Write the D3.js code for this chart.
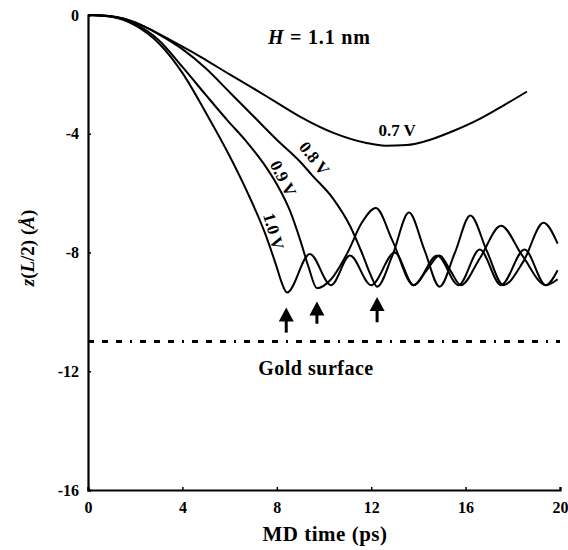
<!DOCTYPE html>
<html>
<head>
<meta charset="utf-8">
<script src="https://cdnjs.cloudflare.com/ajax/libs/d3/7.8.5/d3.min.js"></script>
<style>
  body { margin: 0; background: #fff; }
  text { font-family: "Liberation Serif", "Times New Roman", serif; font-weight: bold; fill: #000; }
</style>
</head>
<body>
<div id="chart"></div>
<script>
// values (time in ps, z in Angstrom)
var time07 = [0, 1, 2, 2.6, 3.5, 4.75, 6, 6.9, 8, 9, 10.4, 11.8, 12.6, 13.5, 14.5, 15.5, 16.6, 17.6, 18.6];
var z07    = [0, -0.05, -0.25, -0.47, -0.85, -1.4, -2.0, -2.42, -2.95, -3.43, -3.97, -4.31, -4.4, -4.38, -4.2, -3.9, -3.5, -3.05, -2.58];

var time08 = [0, 1, 2, 3, 4, 5, 6, 7, 8, 9, 9.5, 10.4, 11.1, 11.6, 12.0, 12.25, 12.9, 13.6, 14.25, 14.9, 15.55, 16.2, 16.9, 17.6, 18.45, 19.3, 19.9];
var z08    = [0, -0.04, -0.25, -0.65, -1.15, -1.8, -2.6, -3.4, -4.2, -4.95, -5.4, -6.2, -7.1, -8.0, -8.8, -9.15, -8.1, -6.65, -7.9, -9.15, -8.0, -6.75, -7.95, -9.1, -8.3, -7.0, -7.7];

var time09 = [0, 1, 2, 3, 4, 5, 5.9, 6.7, 7.42, 8, 8.56, 9, 9.35, 9.7, 10.3, 11.0, 11.6, 12.2, 12.9, 13.8, 14.35, 14.9, 15.35, 15.8, 16.6, 17.5, 18.4, 19.4, 19.9];
var z09    = [0, -0.05, -0.3, -0.85, -1.75, -2.7, -3.54, -4.25, -4.98, -5.7, -6.6, -7.6, -8.5, -9.2, -8.9, -8.0, -7.0, -6.5, -7.6, -9.1, -8.6, -8.1, -8.6, -9.1, -8.2, -7.1, -8.1, -9.1, -8.9];

var time10 = [0, 1, 2, 3, 4, 5, 6, 6.74, 7.5, 8.0, 8.2, 8.43, 9.4, 10.3, 11.1, 12.0, 13.0, 13.8, 14.8, 15.7, 16.6, 17.5, 18.5, 19.4, 19.9];
var z10    = [0, -0.06, -0.35, -0.95, -1.95, -3.3, -4.75, -5.95, -7.35, -8.5, -9.0, -9.35, -8.05, -9.1, -8.1, -9.1, -8.0, -9.1, -8.1, -9.1, -7.9, -9.1, -7.9, -9.1, -8.6];

var seriesNames = ["0.7 V", "0.8 V", "0.9 V", "1.0 V"];

// first-contact arrows (time, tip z, tail z)
var arrowTime = [8.4, 9.7, 12.25];
var arrowTip  = [-9.85, -9.65, -9.5];
var arrowTail = [-10.7, -10.4, -10.35];

var goldZ = -11;

var xTicks = [0, 4, 8, 12, 16, 20];
var yTicks = [0, -4, -8, -12, -16];

// chart size
var svgWidth = 568;
var svgHeight = 550;
var margin = { top: 15, right: 8, bottom: 60, left: 88 };
var width = 560 - margin.left;
var height = 490 - margin.top;

var svg = d3.select("#chart")
  .append("svg")
  .attr("width", svgWidth)
  .attr("height", svgHeight);

var chartGroup = svg.append("g").attr("transform", `translate(${margin.left}, ${margin.top})`);

var x = d3.scaleLinear().domain([0, 20]).range([0, width]);
var y = d3.scaleLinear().domain([-16, 0]).range([height, 0]);

// axes - only left and bottom, small inward ticks
var bottomAxis = d3.axisBottom(x).tickValues(xTicks).tickSize(-3).tickPadding(9).tickFormat(d3.format("d"));
var leftAxis = d3.axisLeft(y).tickValues(yTicks).tickSize(-3).tickPadding(9).tickFormat(d3.format("d"));

var xAxis = chartGroup.append("g")
  .attr("transform", `translate(0, ${height})`)
  .call(bottomAxis);
var yAxis = chartGroup.append("g").call(leftAxis);

[xAxis, yAxis].forEach(function(ax) {
  ax.select(".domain").attr("stroke", "#000").attr("stroke-width", 2.2);
  ax.selectAll(".tick line").attr("stroke", "#000").attr("stroke-width", 1.5);
  ax.selectAll(".tick text")
    .style("font-size", "16px")
    .style("font-family", '"Liberation Serif", serif')
    .style("font-weight", "bold");
});
xAxis.selectAll(".tick text").attr("dy", "0.85em");
// the y axis labels use a short dash for minus
yAxis.selectAll(".tick text").text(function(d) { return d === 0 ? "0" : "-" + Math.abs(d); });

// curves
var line = d3.line()
  .x(d => x(d[0]))
  .y(d => y(d[1]))
  .curve(d3.curveMonotoneX);

var allSeries = [[time07, z07], [time08, z08], [time09, z09], [time10, z10]];
allSeries.forEach(function(s) {
  var pts = s[0].map((t, i) => [t, s[1][i]]);
  chartGroup.append("path")
    .datum(pts)
    .attr("d", line)
    .attr("fill", "none")
    .attr("stroke", "#000")
    .attr("stroke-width", 2);
});

// gold surface line
chartGroup.append("line")
  .attr("x1", x(0)).attr("x2", x(20))
  .attr("y1", y(goldZ)).attr("y2", y(goldZ))
  .attr("stroke", "#000")
  .attr("stroke-width", 3)
  .attr("stroke-dasharray", "6,8,6,8,6,8,2,8");

chartGroup.append("text")
  .attr("x", x(9.66)).attr("y", y(goldZ) + 33)
  .attr("text-anchor", "middle")
  .style("font-size", "20px")
  .style("letter-spacing", "0.5px")
  .text("Gold surface");

// arrows
arrowTime.forEach(function(t, i) {
  var ax = x(t), tipY = y(arrowTip[i]), tailY = y(arrowTail[i]);
  chartGroup.append("line")
    .attr("x1", ax).attr("x2", ax)
    .attr("y1", tipY + 10).attr("y2", tailY)
    .attr("stroke", "#000").attr("stroke-width", 3);
  chartGroup.append("path")
    .attr("d", `M${ax},${tipY} L${ax - 7.5},${tipY + 14} L${ax + 7.5},${tipY + 14} Z`)
    .attr("fill", "#000");
});

// curve labels (data position of the text baseline centre, rotation)
var labelSpots = [
  { t: 13.1, z: -4.07, r: 0 },
  { t: 9.4, z: -4.95, r: 52 },
  { t: 8.05, z: -5.59, r: 63 },
  { t: 7.63, z: -7.34, r: 74 }
];
labelSpots.forEach(function(p, i) {
  chartGroup.append("text")
    .attr("transform", `translate(${x(p.t)}, ${y(p.z)}) rotate(${p.r})`)
    .attr("text-anchor", "middle")
    .style("font-size", "17px")
    .text(seriesNames[i]);
});

// H label
var hText = chartGroup.append("text")
  .attr("x", x(9.8)).attr("y", y(-0.97))
  .attr("text-anchor", "middle")
  .style("font-size", "20px")
  .style("letter-spacing", "0.8px");
hText.append("tspan").style("font-style", "italic").text("H");
hText.append("tspan").text(" = 1.1 nm");

// axis titles
svg.append("text")
  .attr("x", 325).attr("y", 541)
  .attr("text-anchor", "middle")
  .style("font-size", "21px")
  .style("letter-spacing", "0.5px")
  .text("MD time (ps)");

var yTitle = svg.append("text")
  .attr("transform", "translate(34, 248) rotate(-90)")
  .attr("text-anchor", "middle")
  .style("font-size", "19px");
yTitle.append("tspan").style("font-style", "italic").text("z");
yTitle.append("tspan").text("(");
yTitle.append("tspan").style("font-style", "italic").text("L");
yTitle.append("tspan").text("/2) (");
yTitle.append("tspan").style("font-style", "italic").text("Å");
yTitle.append("tspan").text(")");
</script>
</body>
</html>
